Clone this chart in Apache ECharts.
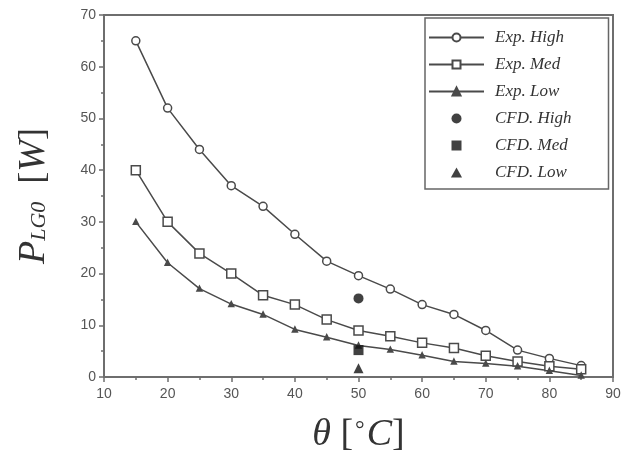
<!DOCTYPE html>
<html><head><meta charset="utf-8">
<script src="https://cdn.jsdelivr.net/npm/echarts@6/dist/echarts.min.js"></script>
<style>html,body{margin:0;padding:0;background:#fff}#c{width:627px;height:454px}</style>
</head><body><div id="c"></div>
<script>
const theta = [15,20,25,30,35,40,45,50,55,60,65,70,75,80,85];
const expHigh = [65,52,44,37,33,27.6,22.4,19.6,17,14,12.1,9,5.2,3.6,2.2];
const expMed  = [40,30,23.9,20,15.8,14,11.1,9,7.9,6.6,5.6,4.1,3,2.1,1.5];
const expLow  = [30,22.1,17.1,14.1,12.1,9.2,7.7,6.1,5.3,4.2,3,2.6,2.1,1.2,0.3];
const cfdTheta = [50];
const cfdHigh = [15.2];
const cfdMed = [5.2];
const cfdLow = [1.7];
const xTicks = [10,90,10];
const yTicks = [0,70,10];

const pair = (xs, ys) => xs.map((x,i)=>[x, ys[i]]);
const lineCol = '#4a4a4a';
const serif = 'Liberation Serif';
const chart = echarts.init(document.getElementById('c'));
function lineSeries(name, data, symbol, size, fill){
  return {name, type:'line', data, symbol, symbolSize:size, showAllSymbol:true,
    lineStyle:{color:lineCol, width:1.5}, itemStyle:{color:fill, borderColor:lineCol, borderWidth:1.5}, z:3};
}
function scat(name, data, symbol, size){
  return {name, type:'scatter', data, symbol, symbolSize:size, itemStyle:{color:'#111'}, z:4};
}
chart.setOption({
  animation:false,
  grid:{left:104, right:14, top:15, bottom:77, outerBoundsMode:'none', containLabel:false,
    show:true, borderColor:'#6e6e6e', borderWidth:2},
  legend:{
    orient:'vertical', left:425, top:18,
    padding:[11,37,8,3], itemGap:10, itemWidth:55, itemHeight:10,
    borderColor:'#666', borderWidth:1.5, backgroundColor:'#fff',
    textStyle:{fontFamily:serif, fontStyle:'italic', fontSize:17, color:'#333', padding:[0,0,0,6]},
    data:[
      {name:'Exp. High'},{name:'Exp. Med'},{name:'Exp. Low'},
      {name:'CFD. High', icon:'circle', itemStyle:{color:'#111'}},
      {name:'CFD. Med', icon:'path://M0,0 L10,0 L10,10 L0,10Z'},
      {name:'CFD. Low', icon:'path://M5,0 L10,9 L0,9Z'}
    ]
  },
  xAxis:{type:'value', min:xTicks[0], max:xTicks[1], interval:xTicks[2],
    axisLine:{lineStyle:{color:'#6e6e6e', width:2}},
    axisTick:{length:5, lineStyle:{color:'#6e6e6e', width:1.5}},
    minorTick:{show:true, splitNumber:2, length:3, lineStyle:{color:'#6e6e6e', width:1.5}},
    splitLine:{show:false},
    axisLabel:{color:'#555', fontSize:14, fontFamily:'Liberation Sans', margin:10},
    name:'{i|θ}{u| [}{d|°}{i|C}{u|]}', nameLocation:'middle', nameGap:38,
    nameTextStyle:{rich:{
      i:{fontFamily:serif, fontStyle:'italic', fontSize:38, color:'#333', verticalAlign:'bottom', height:40},
      u:{fontFamily:serif, fontStyle:'normal', fontSize:38, color:'#333', verticalAlign:'bottom', height:40},
      d:{fontFamily:serif, fontStyle:'normal', fontSize:24, color:'#333', verticalAlign:'bottom', padding:[0,2,12,2]}
    }}
  },
  yAxis:{type:'value', min:yTicks[0], max:yTicks[1], interval:yTicks[2],
    axisLine:{lineStyle:{color:'#6e6e6e', width:2}},
    axisTick:{length:5, lineStyle:{color:'#6e6e6e', width:1.5}},
    minorTick:{show:true, splitNumber:2, length:3, lineStyle:{color:'#6e6e6e', width:1.5}},
    splitLine:{show:false},
    axisLabel:{color:'#555', fontSize:14, fontFamily:'Liberation Sans', margin:8},
    name:'{p|P}{s|LG0}{u|  [}{p|W}{u|]}', nameLocation:'middle', nameGap:48, nameRotate:90,
    nameTextStyle:{rich:{
      p:{fontFamily:serif, fontStyle:'italic', fontSize:38, color:'#333', verticalAlign:'bottom', height:44},
      s:{fontFamily:serif, fontStyle:'italic', fontSize:22, color:'#333', verticalAlign:'bottom', height:34},
      u:{fontFamily:serif, fontStyle:'normal', fontSize:36, color:'#333', verticalAlign:'bottom', height:44}
    }}
  },
  series:[
    lineSeries('Exp. High', pair(theta, expHigh), 'circle', 8, '#fff'),
    lineSeries('Exp. Med', pair(theta, expMed), 'rect', 9, '#fff'),
    lineSeries('Exp. Low', pair(theta, expLow), 'triangle', 5, lineCol),
    scat('CFD. High', pair(cfdTheta, cfdHigh), 'circle', 10),
    scat('CFD. Med', pair(cfdTheta, cfdMed), 'rect', 10),
    scat('CFD. Low', pair(cfdTheta, cfdLow), 'triangle', 10)
  ]
});
</script></body></html>
